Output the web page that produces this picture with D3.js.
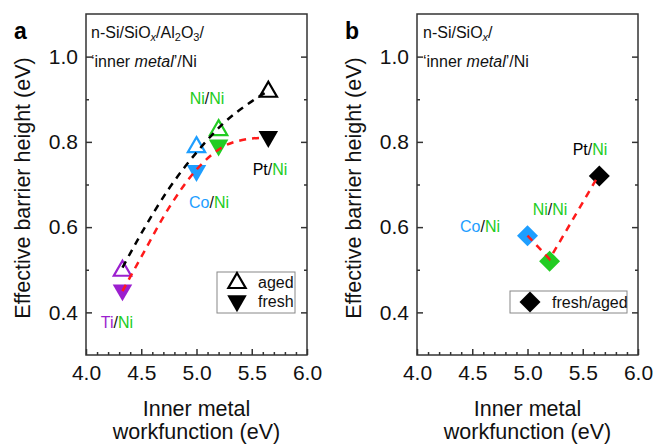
<!DOCTYPE html>
<html>
  <head>
    <meta charset="utf-8">
    <script src="https://d3js.org/d3.v7.min.js"></script>
    <style>
      body { margin: 0; background: #fff; }
      text { font-family: Arial, 'Liberation Sans', sans-serif; }
      .tick text { font-size: 21px; fill: #111; }
      .tick line { stroke: #333; stroke-width: 1.5; }
    </style>
  </head>
  <body>
    <svg width="655" height="444"></svg>
    <script>
      // ---- data ----
      const metalsA = ['Ti', 'Co', 'Ni', 'Pt'];
      const workfunctionA = [4.33, 5.0, 5.2, 5.65];
      const agedA = [0.50, 0.79, 0.83, 0.92];
      const freshA = [0.45, 0.73, 0.79, 0.81];

      // dashed guide curves
      const fitAgedX = [4.33, 4.5, 4.75, 5.0, 5.25, 5.5, 5.62];
      const fitAgedY = [0.505, 0.585, 0.69, 0.775, 0.845, 0.895, 0.915];
      const fitFreshX = [4.33, 4.5, 4.75, 5.0, 5.25, 5.45, 5.62];
      const fitFreshY = [0.45, 0.53, 0.645, 0.735, 0.79, 0.806, 0.81];

      const metalsB = ['Co', 'Ni', 'Pt'];
      const workfunctionB = [5.0, 5.2, 5.65];
      const barrierB = [0.58, 0.52, 0.72];
      const trendBX = [5.0, 5.2, 5.64];
      const trendBY = [0.58, 0.525, 0.72];

      const xTicks = [4.0, 4.5, 5.0, 5.5, 6.0];
      const xMinor = [4.1, 4.2, 4.3, 4.4, 4.6, 4.7, 4.8, 4.9, 5.1, 5.2, 5.3, 5.4, 5.6, 5.7, 5.8, 5.9];
      const yTicks = [0.4, 0.6, 0.8, 1.0];
      const yMinor = [0.5, 0.7, 0.9];

      const metalColor = {Ti: '#9c1fcf', Co: '#1e9eff', Ni: '#22cc22', Pt: '#000000'};
      const niGreen = '#22cc22';

      const svg = d3.select('svg');

      function makePanel(dx, letter) {
        const g = svg.append('g').attr('transform', `translate(${dx},0)`);
        const x = d3.scaleLinear().domain([4, 6]).range([86, 307]);
        const y = d3.scaleLinear().domain([0.3, 1.1]).range([355, 14]);

        const noDomain = s => s.select('.domain').remove();
        g.append('g').attr('transform', 'translate(0,355)')
          .call(d3.axisBottom(x).tickValues(xTicks).tickSize(-6).tickPadding(10).tickFormat(d3.format('.1f')))
          .call(noDomain);
        g.append('g').attr('transform', 'translate(0,355)')
          .call(d3.axisBottom(x).tickValues(xMinor).tickSize(-3).tickFormat(''))
          .call(noDomain);
        g.append('g').attr('transform', 'translate(86,0)')
          .call(d3.axisLeft(y).tickValues(yTicks).tickSize(-6).tickPadding(8).tickFormat(d3.format('.1f')))
          .call(noDomain);
        g.append('g').attr('transform', 'translate(86,0)')
          .call(d3.axisLeft(y).tickValues(yMinor).tickSize(-3).tickFormat(''))
          .call(noDomain);
        g.append('g').attr('transform', 'translate(307,0)')
          .call(d3.axisRight(y).tickValues(yTicks).tickSize(-6).tickFormat(''))
          .call(noDomain);
        g.append('g').attr('transform', 'translate(307,0)')
          .call(d3.axisRight(y).tickValues(yMinor).tickSize(-3).tickFormat(''))
          .call(noDomain);

        g.append('rect')
          .attr('x', x(4)).attr('y', y(1.1))
          .attr('width', x(6) - x(4)).attr('height', y(0.3) - y(1.1))
          .attr('fill', 'none').attr('stroke', '#333').attr('stroke-width', 1.5);

        // axis titles
        g.append('text')
          .attr('transform', 'translate(30,188) rotate(-90)')
          .attr('text-anchor', 'middle')
          .style('font-size', '21.5px').attr('fill', '#111')
          .text('Effective barrier height (eV)');
        g.append('text')
          .attr('x', x(5)).attr('y', 416)
          .attr('text-anchor', 'middle')
          .style('font-size', '21.5px').attr('fill', '#111')
          .text('Inner metal');
        g.append('text')
          .attr('x', x(5)).attr('y', 439)
          .attr('text-anchor', 'middle')
          .style('font-size', '21.5px').attr('fill', '#111')
          .text('workfunction (eV)');

        g.append('text')
          .attr('x', 14).attr('y', 39)
          .style('font-size', '23px').style('font-weight', 'bold')
          .text(letter);

        return {g, x, y};
      }

      // label like "Co/Ni" with coloured parts
      function pairLabel(g, px, py, metal) {
        const t = g.append('text').attr('x', px).attr('y', py)
          .attr('text-anchor', 'middle').style('font-size', '16px');
        t.append('tspan').attr('fill', metalColor[metal]).text(metal);
        t.append('tspan').attr('fill', '#111').text('/');
        t.append('tspan').attr('fill', niGreen).text('Ni');
      }

      function stackLabel(g, px, lines) {
        // lines: array of arrays of [text, style]
        lines.forEach((parts, i) => {
          const t = g.append('text').attr('x', px).attr('y', 38 + i * 29)
            .style('font-size', '16px').attr('fill', '#111');
          parts.forEach(p => {
            const s = t.append('tspan').text(p[0]);
            if (p[1] === 'sub') s.attr('baseline-shift', '-30%').style('font-size', '11px');
            if (p[1] === 'subi') s.attr('baseline-shift', '-30%').style('font-size', '11px').style('font-style', 'italic');
            if (p[1] === 'i') s.style('font-style', 'italic');
          });
        });
      }

      const triUp = d3.symbol().type(d3.symbolTriangle).size(130);
      const triDown = d3.symbol().type(d3.symbolTriangle).size(165);
      const diamond = d3.symbol().type(d3.symbolSquare).size(220);

      // ---------------- panel a ----------------
      const A = makePanel(0, 'a');
      stackLabel(A.g, 91, [
        [['n-Si/SiO'], ['x', 'subi'], ['/Al'], ['2', 'sub'], ['O'], ['3', 'sub'], ['/']],
        [['\u2018inner '], ['metal', 'i'], ['\u2019/Ni']]
      ]);

      A.g.selectAll('.aged').data(metalsA).enter().append('path')
        .attr('transform', (d, i) => `translate(${A.x(workfunctionA[i])},${A.y(agedA[i]) + 1})`)
        .attr('d', triUp)
        .attr('fill', 'none')
        .attr('stroke', d => metalColor[d])
        .attr('stroke-width', 2.2);
      A.g.selectAll('.fresh').data(metalsA).enter().append('path')
        .attr('transform', (d, i) => `translate(${A.x(workfunctionA[i])},${A.y(freshA[i]) - 1}) rotate(180)`)
        .attr('d', triDown)
        .attr('fill', d => metalColor[d]);

      const lineA = d3.line().curve(d3.curveMonotoneX);
      A.g.append('path')
        .attr('d', lineA(fitAgedX.map((v, i) => [A.x(v), A.y(fitAgedY[i])])))
        .attr('fill', 'none').attr('stroke', '#000').attr('stroke-width', 2.5)
        .attr('stroke-dasharray', '7,6');
      A.g.append('path')
        .attr('d', lineA(fitFreshX.map((v, i) => [A.x(v), A.y(fitFreshY[i])])))
        .attr('fill', 'none').attr('stroke', '#ff1a1a').attr('stroke-width', 2.5)
        .attr('stroke-dasharray', '7,6');

      // labels panel a
      pairLabel(A.g, 117, 328, 'Ti');
      pairLabel(A.g, 209, 208, 'Co');
      A.g.append('text').attr('x', 207).attr('y', 104).attr('text-anchor', 'middle')
        .style('font-size', '16px')
        .call(t => { t.append('tspan').attr('fill', niGreen).text('Ni');
                     t.append('tspan').attr('fill', '#111').text('/');
                     t.append('tspan').attr('fill', niGreen).text('Ni'); });
      pairLabel(A.g, 270, 175, 'Pt');

      // legend a
      const legA = A.g.append('g');
      legA.append('rect').attr('x', 217).attr('y', 272).attr('width', 78).attr('height', 41)
        .attr('fill', '#fff').attr('stroke', '#888').attr('stroke-width', 1);
      legA.append('path').attr('transform', 'translate(237,283)').attr('d', triUp)
        .attr('fill', 'none').attr('stroke', '#000').attr('stroke-width', 2.2);
      legA.append('path').attr('transform', 'translate(237,301) rotate(180)').attr('d', triDown)
        .attr('fill', '#000');
      legA.append('text').attr('x', 258).attr('y', 288).style('font-size', '16px').attr('fill', '#111').text('aged');
      legA.append('text').attr('x', 258).attr('y', 307).style('font-size', '16px').attr('fill', '#111').text('fresh');

      // ---------------- panel b ----------------
      const B = makePanel(331, 'b');
      stackLabel(B.g, 92, [
        [['n-Si/SiO'], ['x', 'subi'], ['/']],
        [['\u2018inner '], ['metal', 'i'], ['\u2019/Ni']]
      ]);

      B.g.selectAll('.dia').data(metalsB).enter().append('path')
        .attr('transform', (d, i) => `translate(${B.x(workfunctionB[i])},${B.y(barrierB[i])}) rotate(45)`)
        .attr('d', diamond)
        .attr('fill', d => metalColor[d]);

      B.g.append('path')
        .attr('d', d3.line()(trendBX.map((v, i) => [B.x(v), B.y(trendBY[i])])))
        .attr('fill', 'none').attr('stroke', '#ff1a1a').attr('stroke-width', 2.5)
        .attr('stroke-dasharray', '7,6');

      pairLabel(B.g, 149, 232, 'Co');
      B.g.append('text').attr('x', 219).attr('y', 215).attr('text-anchor', 'middle')
        .style('font-size', '16px')
        .call(t => { t.append('tspan').attr('fill', niGreen).text('Ni');
                     t.append('tspan').attr('fill', '#111').text('/');
                     t.append('tspan').attr('fill', niGreen).text('Ni'); });
      pairLabel(B.g, 259, 155, 'Pt');

      const legB = B.g.append('g');
      legB.append('rect').attr('x', 179).attr('y', 291).attr('width', 117).attr('height', 22)
        .attr('fill', '#fff').attr('stroke', '#888').attr('stroke-width', 1);
      legB.append('path').attr('transform', 'translate(199,302) rotate(45)').attr('d', diamond)
        .attr('fill', '#000');
      legB.append('text').attr('x', 221).attr('y', 308).style('font-size', '16px').attr('fill', '#111').text('fresh/aged');
    </script>
  </body>
</html>
